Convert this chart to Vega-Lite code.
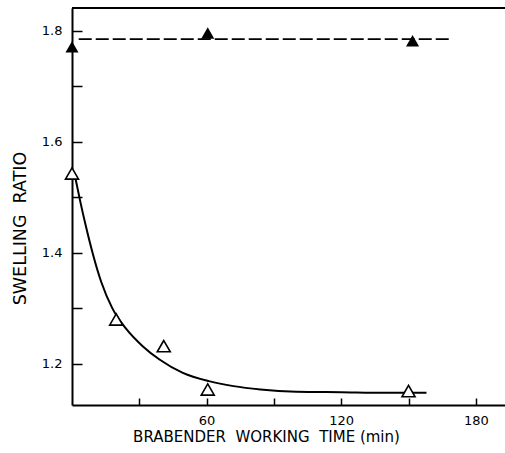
{
  "$schema": "https://vega.github.io/schema/vega-lite/v6.json",
  "width": 433,
  "height": 397,
  "autosize": "none",
  "padding": {"left": 72, "top": 8, "right": 0, "bottom": 48},
  "background": "white",
  "config": {
    "view": {"stroke": null}
  },
  "datasets": {
    "dash": [
      {"time": 3, "ratio": 1.785},
      {"time": 169, "ratio": 1.785}
    ],
    "frame": [
      {"ratio": 1.841}
    ],
    "curve": [
      {"time": 1.6, "ratio": 1.533},
      {"time": 3.6, "ratio": 1.494},
      {"time": 6.3, "ratio": 1.446},
      {"time": 9.3, "ratio": 1.398},
      {"time": 13, "ratio": 1.348},
      {"time": 18, "ratio": 1.300},
      {"time": 24, "ratio": 1.264},
      {"time": 31.5, "ratio": 1.232},
      {"time": 39, "ratio": 1.208},
      {"time": 49.4, "ratio": 1.184},
      {"time": 61, "ratio": 1.169},
      {"time": 72, "ratio": 1.160},
      {"time": 84, "ratio": 1.154},
      {"time": 100, "ratio": 1.150},
      {"time": 120, "ratio": 1.149},
      {"time": 140, "ratio": 1.148},
      {"time": 158, "ratio": 1.148}
    ],
    "open": [
      {"time": 0, "ratio": 1.543},
      {"time": 19.7, "ratio": 1.280},
      {"time": 40.9, "ratio": 1.232},
      {"time": 60.5, "ratio": 1.154},
      {"time": 150, "ratio": 1.151}
    ],
    "filled": [
      {"time": 0, "ratio": 1.771},
      {"time": 60.5, "ratio": 1.796},
      {"time": 151.8, "ratio": 1.782}
    ]
  },
  "layer": [
    {
      "data": {"name": "dash"},
      "mark": {"type": "line", "color": "black", "strokeWidth": 1.8, "strokeDash": [13, 4]},
      "encoding": {
        "x": {"field": "time", "type": "quantitative", "scale": {"domain": [0, 193], "nice": false, "zero": false},
          "axis": {"title": "BRABENDER\u00a0\u00a0WORKING\u00a0\u00a0TIME\u00a0(min)", "values": [30, 60, 90, 120, 150, 180],
            "labelExpr": "datum.value % 60 == 0 ? datum.value : ''", "tickSize": -7, "labelPadding": 16,
            "domainColor": "black", "tickColor": "black", "labelColor": "black", "titleColor": "black", "domainWidth": 2, "tickWidth": 1.5, "grid": false,
            "labelFont": "DejaVu Sans", "titleFont": "DejaVu Sans", "labelFontSize": 13, "titleFontSize": 15, "titleFontWeight": "normal",
            "titleX": 194, "titleY": 36, "titleBaseline": "alphabetic", "titleAnchor": "middle", "titleAlign": "center"}},
        "y": {"field": "ratio", "type": "quantitative", "scale": {"domain": [1.126, 1.841], "nice": false, "zero": false},
          "axis": {"title": "SWELLING\u00a0\u00a0RATIO", "values": [1.2, 1.3, 1.4, 1.5, 1.6, 1.7, 1.8],
            "labelExpr": "indexof(['1.2','1.4','1.6','1.8'], format(datum.value, '.1f')) >= 0 ? format(datum.value, '.1f') : ''",
            "domainColor": "black", "tickColor": "black", "labelColor": "black", "titleColor": "black", "domainWidth": 2, "tickWidth": 1.5, "grid": false,
            "labelFont": "DejaVu Sans", "titleFont": "DejaVu Sans", "labelFontSize": 13, "titleFontSize": 17.5, "titleFontWeight": "normal",
            "tickSize": -10, "labelPadding": 20, "titleAngle": 270, "titleX": -52, "titleY": 220, "titleBaseline": "middle", "titleAlign": "center"}}
      }
    },
    {
      "data": {"name": "frame"},
      "mark": {"type": "rule", "color": "black", "strokeWidth": 2},
      "encoding": {
        "y": {"field": "ratio", "type": "quantitative"}
      }
    },
    {
      "data": {"name": "curve"},
      "mark": {"type": "line", "color": "black", "strokeWidth": 2, "interpolate": "monotone"},
      "encoding": {
        "x": {"field": "time", "type": "quantitative"},
        "y": {"field": "ratio", "type": "quantitative"}
      }
    },
    {
      "data": {"name": "open"},
      "mark": {"type": "point", "shape": "triangle-up", "size": 170, "filled": false, "stroke": "black", "strokeWidth": 1.6, "fill": "white", "opacity": 1},
      "encoding": {
        "x": {"field": "time", "type": "quantitative"},
        "y": {"field": "ratio", "type": "quantitative"}
      }
    },
    {
      "data": {"name": "filled"},
      "mark": {"type": "point", "shape": "triangle-up", "size": 170, "filled": true, "color": "black", "opacity": 1},
      "encoding": {
        "x": {"field": "time", "type": "quantitative"},
        "y": {"field": "ratio", "type": "quantitative"}
      }
    }
  ]
}
